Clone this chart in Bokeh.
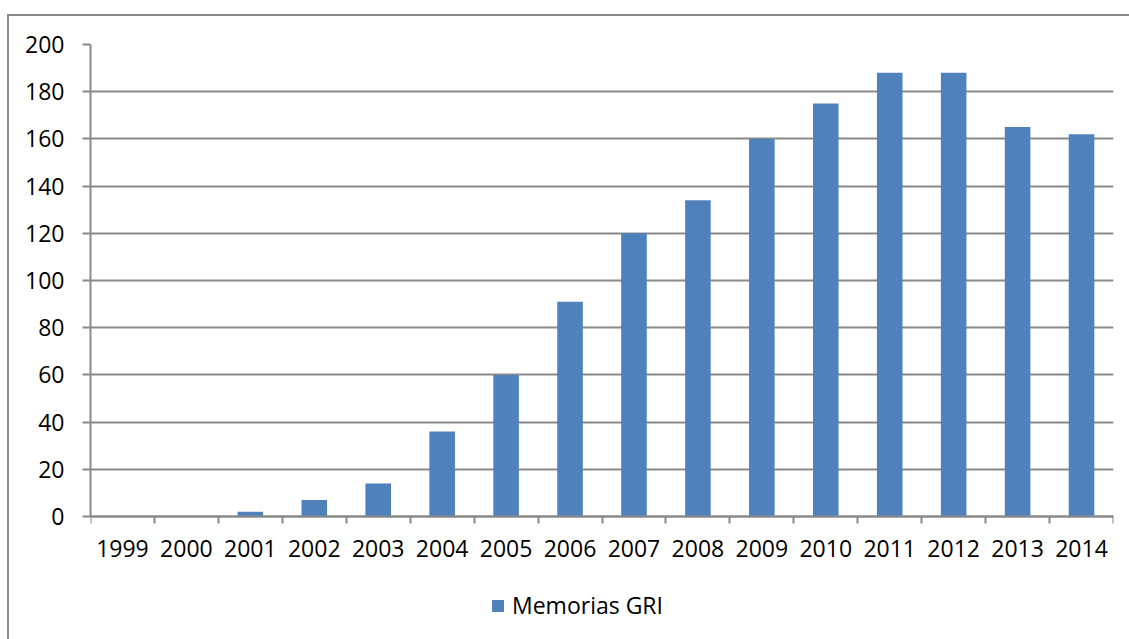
from bokeh.plotting import figure
from bokeh.models import (Range1d, FixedTicker, Legend, LegendItem, InlineStyleSheet)
from bokeh.embed import file_html
from bokeh.resources import INLINE

years = ["1999", "2000", "2001", "2002", "2003", "2004", "2005", "2006",
         "2007", "2008", "2009", "2010", "2011", "2012", "2013", "2014"]
values = [0, 0, 2, 7, 14, 36, 60, 91, 120, 134, 160, 175, 188, 188, 165, 162]
series_name = "Memorias GRI"
y_ticks = [0, 20, 40, 60, 80, 100, 120, 140, 160, 180, 200]

FONT = "Open Sans"
FONT_SIZE = "23px"
GRAY = "#898989"
BAR = "#4F81BD"

xs = list(range(len(years)))

# plot area: y=200 at 44px, y=0 at 516px; frame continues to the bottom edge
Y_MAX = 200
PX_PER_UNIT = (516 - 44) / Y_MAX
Y_MIN = -(639 - 516) / PX_PER_UNIT

p = figure(width=1129, height=639, output_backend="svg", toolbar_location=None,
           x_range=Range1d(-0.5, len(years) - 0.5), y_range=Range1d(Y_MIN, Y_MAX),
           min_border_left=90, min_border_right=16, min_border_top=44,
           min_border_bottom=0)
p.outline_line_color = None
p.background_fill_color = "white"
p.border_fill_color = "white"

r = p.vbar(x=xs, top=values, width=0.4, fill_color=BAR, line_color=None)

# x axis, pinned at y = 0
xa = p.xaxis[0]
xa.fixed_location = 0
xa.ticker = FixedTicker(ticks=xs, minor_ticks=[i - 0.5 for i in range(len(years) + 1)])
xa.major_label_overrides = {i: y for i, y in enumerate(years)}
xa.major_tick_out = 0
xa.major_tick_in = 0
xa.minor_tick_out = 7
xa.minor_tick_in = 0
xa.minor_tick_line_color = GRAY
xa.minor_tick_line_width = 2
xa.axis_line_color = GRAY
xa.axis_line_width = 2
xa.major_label_text_font = FONT
xa.major_label_text_font_size = FONT_SIZE
xa.major_label_text_color = "black"
xa.major_label_standoff = 16

# y axis
ya = p.yaxis[0]
ya.ticker = FixedTicker(ticks=y_ticks)
ya.bounds = (0, Y_MAX)
ya.minor_tick_line_color = None
ya.major_tick_out = 8
ya.major_tick_in = 0
ya.major_tick_line_color = GRAY
ya.major_tick_line_width = 2
ya.axis_line_color = GRAY
ya.axis_line_width = 2
ya.major_label_text_font = FONT
ya.major_label_text_font_size = FONT_SIZE
ya.major_label_text_color = "black"
ya.major_label_standoff = 18

p.xgrid.grid_line_color = None
p.ygrid.grid_line_color = GRAY
p.ygrid.grid_line_width = 2

legend = Legend(items=[LegendItem(label=series_name, renderers=[r])],
                location=(400, 18), orientation="horizontal",
                glyph_width=15, glyph_height=15, label_standoff=7,
                padding=0, margin=0, border_line_color=None,
                background_fill_alpha=0,
                label_text_font=FONT, label_text_font_size=FONT_SIZE,
                label_text_color="black")
p.add_layout(legend, "center")

css = InlineStyleSheet(css=(
    ":host::after { content: ''; position: absolute; left: 7px; top: 14px; "
    "right: 0px; bottom: 0px; border-left: 2px solid #898989; "
    "border-top: 2px solid #898989; pointer-events: none; }"))
p.stylesheets = [css]

open("out.html", "w").write(file_html(p, INLINE))
